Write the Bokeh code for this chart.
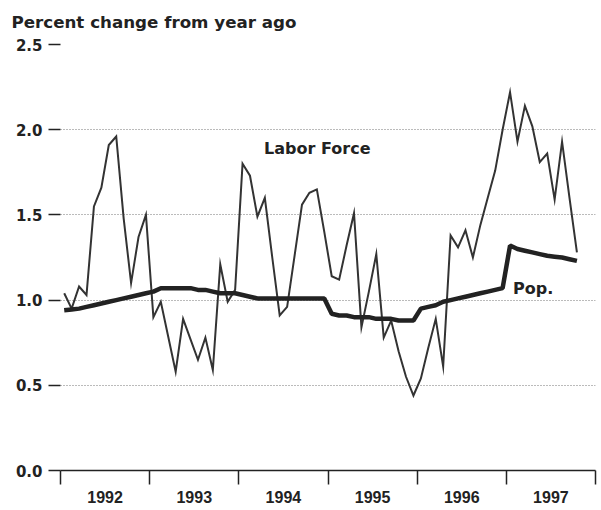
from bokeh.plotting import figure
from bokeh.models import Range1d, FixedTicker, NumeralTickFormatter, CustomJSTickFormatter, ColumnDataSource
from bokeh.core.properties import value
from bokeh.embed import file_html
from bokeh.resources import INLINE

# ---- data ----
start_year = 1992
years = [1992, 1993, 1994, 1995, 1996, 1997]
labor_force = [
    1.04, 0.95, 1.08, 1.03, 1.55, 1.66, 1.91, 1.96, 1.48, 1.10, 1.37, 1.50,
    0.90, 0.99, 0.785, 0.58, 0.89, 0.77, 0.65, 0.78, 0.59, 1.21, 0.99, 1.06,
    1.80, 1.73, 1.49, 1.60, 1.25, 0.91, 0.96, 1.26, 1.56, 1.63, 1.65, 1.40,
    1.14, 1.12, 1.32, 1.51, 0.84, 1.05, 1.27, 0.78, 0.88, 0.70, 0.55, 0.44,
    0.54, 0.72, 0.89, 0.61, 1.38, 1.31, 1.41, 1.25, 1.44, 1.60, 1.76, 2.00,
    2.22, 1.93, 2.14, 2.02, 1.81, 1.86, 1.59, 1.93, 1.60, 1.28,
]
population = [
    0.94, 0.945, 0.95, 0.96, 0.97, 0.98, 0.99, 1.00, 1.01, 1.02, 1.03, 1.04,
    1.05, 1.07, 1.07, 1.07, 1.07, 1.07, 1.06, 1.06, 1.05, 1.04, 1.04, 1.04,
    1.03, 1.02, 1.01, 1.01, 1.01, 1.01, 1.01, 1.01, 1.01, 1.01, 1.01, 1.01,
    0.92, 0.91, 0.91, 0.90, 0.90, 0.90, 0.89, 0.89, 0.89, 0.88, 0.88, 0.88,
    0.95, 0.96, 0.97, 0.99, 1.00, 1.01, 1.02, 1.03, 1.04, 1.05, 1.06, 1.07,
    1.32, 1.30, 1.29, 1.28, 1.27, 1.26, 1.255, 1.25, 1.24, 1.23,
]
y_ticks = [0.0, 0.5, 1.0, 1.5, 2.0, 2.5]
series_labels = ["Labor Force", "Pop."]
label_x = [1994.88, 1997.30]
label_y = [1.89, 1.067]
title_text = "Percent change from year ago"

months = [start_year + (i + 0.5) / 12 for i in range(len(labor_force))]
src = ColumnDataSource(dict(x=months, lf=labor_force, pop=population))

p = figure(frame_width=535, frame_height=426, output_backend="svg", toolbar_location=None,
           x_range=Range1d(1992, 1998), y_range=Range1d(0, 2.5),
           min_border_left=60, min_border_right=5, min_border_top=44, min_border_bottom=30,
           background_fill_color="white", border_fill_color="white")
p.outline_line_color = None

# title
p.title.text = title_text
p.title.align = "left"
p.title.vertical_align = "top"
p.title.offset = -49
p.title.standoff = 22
p.title.text_font = "DejaVu Sans"
p.title.text_font_size = "16.7px"
p.title.text_font_style = "bold"
p.title.text_color = "#222222"

# grid
p.xgrid.grid_line_color = None
p.ygrid.ticker = FixedTicker(ticks=[t for t in y_ticks if t > 0])
p.ygrid.grid_line_color = "#777777"
p.ygrid.grid_line_dash = "1 2"
p.ygrid.grid_line_width = 1

# y axis
p.yaxis.ticker = FixedTicker(ticks=y_ticks)
p.yaxis.formatter = NumeralTickFormatter(format="0.0")
p.yaxis.axis_line_color = None
p.yaxis.major_tick_out = 12
p.yaxis.major_tick_in = 0
p.yaxis.major_tick_line_width = 1.5
p.yaxis.major_tick_line_color = "#222222"
p.yaxis.minor_tick_line_color = None
p.yaxis.major_label_standoff = 6
p.yaxis.major_label_text_font = "DejaVu Sans"
p.yaxis.major_label_text_font_style = "bold"
p.yaxis.major_label_text_font_size = "15px"
p.yaxis.major_label_text_color = "#222222"

# x axis
p.xaxis.ticker = FixedTicker(ticks=[y + 0.5 for y in years], minor_ticks=years + [years[-1] + 1])
p.xaxis.formatter = CustomJSTickFormatter(code="return Math.floor(tick).toString();")
p.xaxis.axis_line_color = "#222222"
p.xaxis.axis_line_width = 1.5
p.xaxis.major_tick_line_color = None
p.xaxis.major_tick_out = 0
p.xaxis.major_tick_in = 0
p.xaxis.minor_tick_out = 14
p.xaxis.minor_tick_in = 0
p.xaxis.minor_tick_line_color = "#222222"
p.xaxis.minor_tick_line_width = 1.5
p.xaxis.major_label_standoff = 6
p.xaxis.major_label_text_font = "Liberation Sans"
p.xaxis.major_label_text_font_style = "bold"
p.xaxis.major_label_text_font_size = "16px"
p.xaxis.major_label_text_color = "#222222"

# lines
p.line("x", "lf", source=src, line_color="#333333", line_width=2, line_join="miter")
p.line("x", "pop", source=src, line_color="#222222", line_width=4.5)

p.text(x=label_x, y=label_y, text=series_labels,
       text_font=value("DejaVu Sans"), text_font_style="bold", text_font_size="16px",
       text_align="center", text_baseline="middle", text_color="#222222")

open("out.html", "w").write(file_html(p, INLINE))
